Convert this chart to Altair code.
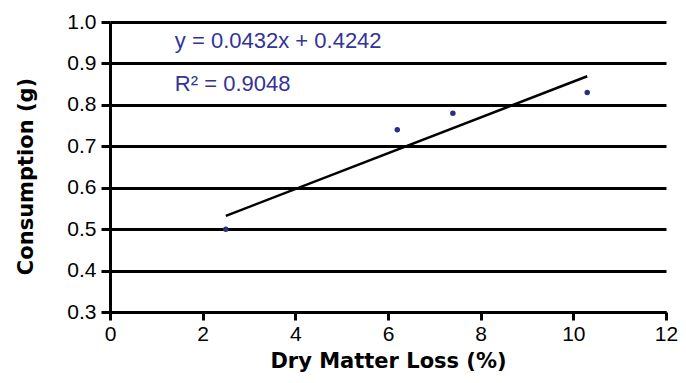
import altair as alt
import pandas as pd

# Data
dry_matter_loss = [2.5, 6.2, 7.4, 10.3]
consumption = [0.50, 0.74, 0.78, 0.83]

# Trendline (y = 0.0432x + 0.4242) endpoints over the data range
trend_x = [2.5, 10.3]
trend_y = [0.532, 0.869]

x_ticks = [0, 2, 4, 6, 8, 10, 12]
y_ticks = [0.3, 0.4, 0.5, 0.6, 0.7, 0.8, 0.9, 1.0]

annotation_text = ["y = 0.0432x + 0.4242", "R\u00b2 = 0.9048"]
annotation_x = [1.4, 1.4]
annotation_y = [0.937, 0.834]

points_df = pd.DataFrame({"x": dry_matter_loss, "y": consumption})
trend_df = pd.DataFrame({"x": trend_x, "y": trend_y})
ann_df = pd.DataFrame({"x": annotation_x, "y": annotation_y, "t": annotation_text})

x_scale = alt.Scale(domain=[0, 12], nice=False, zero=False)
y_scale = alt.Scale(domain=[0.3, 1.0], nice=False, zero=False)

x_axis = alt.Axis(
    values=x_ticks, format="d", grid=False, labelFlush=False,
    title="Dry Matter Loss (%)",
    titleFont="DejaVu Sans", titleFontWeight="bold", titleFontSize=21, titleColor="black",
    titleY=49, titleBaseline="middle",
    labelFont="Liberation Sans", labelFontSize=21, labelColor="black", labelPadding=3,
    domainColor="black", domainWidth=3, tickColor="black", tickWidth=3, tickSize=8,
)
y_axis = alt.Axis(
    values=y_ticks, format=".1f", labelFlush=False,
    grid=True, gridColor="black", gridWidth=3, gridOpacity=1,
    title="Consumption (g)",
    titleFont="DejaVu Sans", titleFontWeight="bold", titleFontSize=21, titleColor="black",
    titleX=-84, titleY=154, titleAngle=270, titleBaseline="middle", titleAlign="center",
    labelFont="Liberation Sans", labelFontSize=21, labelColor="black", labelPadding=5,
    domainColor="black", domainWidth=3, tickColor="black", tickWidth=3, tickSize=9,
)

base_points = alt.Chart(points_df).mark_point(
    filled=True, size=30, color="#2E2E86", opacity=1
).encode(
    x=alt.X("x:Q", scale=x_scale, axis=x_axis),
    y=alt.Y("y:Q", scale=y_scale, axis=y_axis),
)

trend = alt.Chart(trend_df).mark_line(color="black", strokeWidth=2.5).encode(
    x=alt.X("x:Q", scale=x_scale),
    y=alt.Y("y:Q", scale=y_scale),
)

ann = alt.Chart(ann_df).mark_text(
    align="left", baseline="alphabetic", font="Liberation Sans", fontSize=22, color="#333399"
).encode(
    x=alt.X("x:Q", scale=x_scale),
    y=alt.Y("y:Q", scale=y_scale),
    text="t:N",
)

chart = alt.layer(base_points, trend, ann).properties(
    width=556, height=290,
    autosize=alt.AutoSizeParams(type="none"),
    padding={"left": 102, "top": 14, "right": 12, "bottom": 63},
    background="white",
).configure_view(strokeWidth=0)

chart.save("out.html", embed_options={"renderer": "svg", "actions": False})
